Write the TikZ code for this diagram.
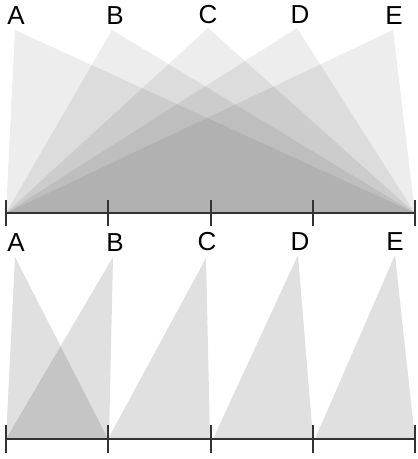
\documentclass[tikz,border=0pt]{standalone}
\usepackage{fontspec}
\setmainfont{Liberation Sans}
\begin{document}
\begin{tikzpicture}[x=0.5pt,y=-0.5pt,
  wedge/.style={fill=black,fill opacity=0.07},
  slab/.style={fill=black,fill opacity=0.12},
  axis/.style={draw=black!80,line width=1pt},
  tag/.style={font=\fontsize{13}{13}\selectfont,inner sep=0pt}]
  \useasboundingbox (0,0) rectangle (417,459);
  % Top apexes and labels
  \coordinate (pA) at (15,30);
  \coordinate (pB) at (112,30);
  \coordinate (pC) at (208,28);
  \coordinate (pD) at (297,28);
  \coordinate (pE) at (393,30);
  \node[tag] (lA) at (16,16) {A};
  \node[tag] (lB) at (115,16) {B};
  \node[tag] (lC) at (208,15) {C};
  \node[tag] (lD) at (300,15) {D};
  \node[tag] (lE) at (394,16) {E};
  % Top axis ticks
  \foreach \i/\x in {0/6,1/108,2/211,3/313,4/415}
    \coordinate (t\i) at (\x,213);
  % Top wedges, all to both ends
  \foreach \p in {pA,pB,pC,pD,pE}
    \fill[wedge] (\p) -- (t0) -- (t4) -- cycle;
  \draw[axis] (t0) -- (t4);
  \foreach \i in {0,...,4}
    \draw[axis] ([yshift=-6.5pt]t\i) -- ([yshift=6.5pt]t\i);
  % Bottom apexes and labels
  \coordinate (qA) at (15,257);
  \coordinate (qB) at (113,257);
  \coordinate (qC) at (206,258);
  \coordinate (qD) at (298,255);
  \coordinate (qE) at (395,255);
  \node[tag] (mA) at (16,243) {A};
  \node[tag] (mB) at (115,243) {B};
  \node[tag] (mC) at (207,242) {C};
  \node[tag] (mD) at (300,242) {D};
  \node[tag] (mE) at (395,242) {E};
  % Bottom axis ticks
  \foreach \i/\x in {0/6,1/108,2/211,3/313,4/415}
    \coordinate (b\i) at (\x,439);
  % Bottom wedges, one interval each
  \fill[slab] (qA) -- (b0) -- (b1) -- cycle;
  \fill[slab] (qB) -- (b0) -- ([xshift=0.5pt]b1) -- cycle;
  \fill[slab] (qC) -- (b1) -- ([xshift=-0.5pt]b2) -- cycle;
  \fill[slab] (qD) -- ([xshift=1pt]b2) -- (b3) -- cycle;
  \fill[slab] (qE) -- ([xshift=1pt]b3) -- (b4) -- cycle;
  \draw[axis] (b0) -- (b4);
  \foreach \i in {0,...,4}
    \draw[axis] ([yshift=-7pt]b\i) -- ([yshift=7pt]b\i);
\end{tikzpicture}
\end{document}
